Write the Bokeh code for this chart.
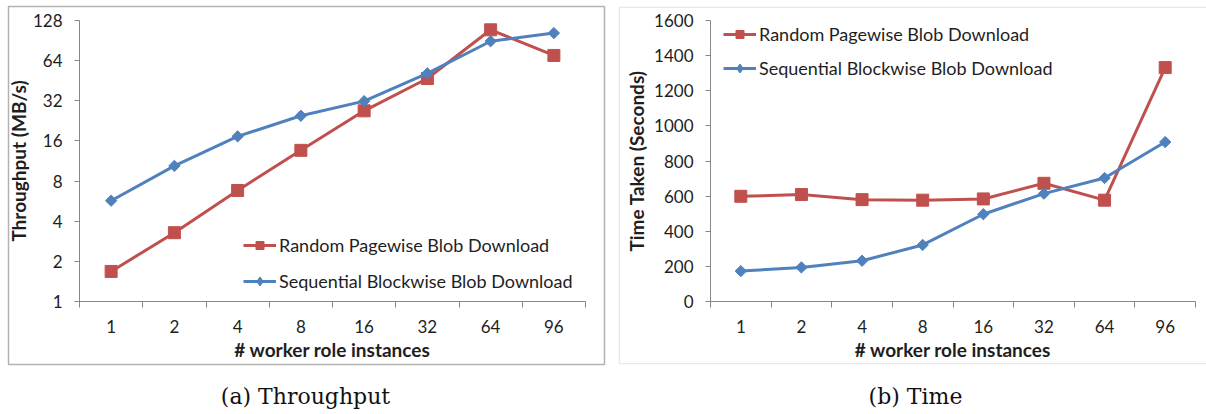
from bokeh.plotting import figure
from bokeh.layouts import row, column
from bokeh.models import (FixedTicker, Legend, LegendItem, Range1d, BoxAnnotation,
                          NumeralTickFormatter, ColumnDataSource)
from bokeh.core.properties import value
from bokeh.embed import file_html
from bokeh.resources import INLINE
import math

# ---- data -------------------------------------------------------------
categories = ["1", "2", "4", "8", "16", "32", "64", "96"]

throughput_random = [1.68, 3.28, 6.8, 13.6, 26.9, 47, 109, 70]
throughput_sequential = [5.7, 10.4, 17.3, 24.7, 31.8, 51.4, 89.5, 103]

time_random = [599, 609, 580, 577, 584, 673, 577, 1332]
time_sequential = [173, 194, 232, 322, 497, 614, 703, 908]

throughput_ticks = [1, 2, 4, 8, 16, 32, 64, 128]
time_ticks = [0, 200, 400, 600, 800, 1000, 1200, 1400, 1600]

series_names = ["Random Pagewise Blob Download", "Sequential Blockwise Blob Download"]
captions = ["(a) Throughput", "(b) Time"]

# ---- style / layout ----------------------------------------------------
RED = "#C0504D"
BLUE = "#4F81BD"
AXIS = "#868686"
FRAME = "#B2B2B2"
TEXT = "#1E1E1E"
FONT = "Lato"

PANEL_H = 366          # height of each chart canvas
BOX_TOP, BOX_BOTTOM = 6, 364      # grey chart border (canvas px)
AXIS_TOP, AXIS_BOTTOM = 20, 301   # value axis extent (canvas px)
CAPTION_H = 48
CAPTION_X = [305, 915]

x_centers = [i + 0.5 for i in range(len(categories))]
x_bounds = list(range(len(categories) + 1))
n_cat = len(categories)


def make_panel(width, box_left, box_right, axis_left, axis_right, log_axis,
               lo, hi, ticks, y_label, red_vals, blue_vals,
               legend_loc, legend_spacing, ylabel_standoff, open_right=False):
    # the plot frame is the grey chart border; axes sit inside it at fixed spots
    px_per_cat = (axis_right - axis_left) / n_cat
    x0 = -(axis_left - box_left) / px_per_cat
    x1 = n_cat + (box_right - axis_right) / px_per_cat

    span = AXIS_BOTTOM - AXIS_TOP
    below = BOX_BOTTOM - AXIS_BOTTOM
    above = AXIS_TOP - BOX_TOP
    if log_axis:
        octaves = math.log2(hi / lo)
        y0 = lo * 2 ** (-below * octaves / span)
        y1 = hi * 2 ** (above * octaves / span)
    else:
        y0 = lo - below * (hi - lo) / span
        y1 = hi + above * (hi - lo) / span

    p = figure(width=width, height=PANEL_H, output_backend="svg", toolbar_location=None,
               x_range=Range1d(x0, x1), y_range=Range1d(y0, y1),
               y_axis_type="log" if log_axis else "linear",
               min_border_left=box_left, min_border_right=width - box_right,
               min_border_top=BOX_TOP, min_border_bottom=PANEL_H - BOX_BOTTOM)
    p.xgrid.visible = False
    p.ygrid.visible = False
    p.background_fill_color = "white"
    p.border_fill_color = "white"

    if open_right:
        # border runs off the right edge of the page: draw three sides only
        frame_h = BOX_BOTTOM - BOX_TOP
        p.outline_line_color = None
        p.add_layout(BoxAnnotation(left=0.75, right=box_right - box_left + 20,
                                   bottom=0.75, top=frame_h - 0.75,
                                   left_units="screen", right_units="screen",
                                   top_units="screen", bottom_units="screen",
                                   fill_alpha=0, line_color=FRAME, line_width=1.5))
    else:
        p.outline_line_color = FRAME
        p.outline_line_width = 1.5

    # category axis: labels at band centres, tick marks at band boundaries
    xa = p.xaxis[0]
    xa.fixed_location = lo
    xa.bounds = (0, n_cat)
    xa.ticker = FixedTicker(ticks=x_centers, minor_ticks=x_bounds)
    xa.major_label_overrides = {c: lab for c, lab in zip(x_centers, categories)}
    xa.major_tick_out = 0
    xa.major_tick_in = 0
    xa.minor_tick_out = 6
    xa.minor_tick_in = 0
    xa.minor_tick_line_color = AXIS
    xa.axis_line_color = AXIS
    xa.major_label_standoff = 12
    xa.axis_label = "# worker role instances"
    xa.axis_label_standoff = 2

    ya = p.yaxis[0]
    ya.fixed_location = 0
    ya.bounds = (lo, hi)
    ya.ticker = FixedTicker(ticks=ticks)
    ya.formatter = NumeralTickFormatter(format="0")
    ya.major_tick_out = 5
    ya.major_tick_in = 0
    ya.minor_tick_out = 0
    ya.minor_tick_in = 0
    ya.major_tick_line_color = AXIS
    ya.axis_line_color = AXIS
    ya.major_label_standoff = 12
    ya.axis_label = y_label
    ya.axis_label_standoff = ylabel_standoff

    for ax in (xa, ya):
        ax.major_label_text_font = FONT
        ax.major_label_text_font_size = "17px"
        ax.major_label_text_color = TEXT
        ax.axis_label_text_font = FONT
        ax.axis_label_text_font_size = "19px"
        ax.axis_label_text_font_style = "bold"
        ax.axis_label_text_color = TEXT

    src = ColumnDataSource(dict(x=x_centers, red=red_vals, blue=blue_vals))
    r_line = p.line("x", "red", source=src, line_color=RED, line_width=3)
    r_mark = p.scatter("x", "red", source=src, marker="square", size=12,
                       fill_color=RED, line_color=RED)
    b_line = p.line("x", "blue", source=src, line_color=BLUE, line_width=3)
    b_mark = p.scatter("x", "blue", source=src, marker="square", angle=math.pi / 4,
                       size=8, fill_color=BLUE, line_color=BLUE)
    # legend swatch for the blue series uses an upright diamond marker
    b_key = p.scatter("x", "blue", source=src, marker="diamond", size=12,
                      fill_color=BLUE, line_color=BLUE, line_width=1.5, visible=False)

    legend = Legend(items=[LegendItem(label=series_names[0], renderers=[r_line, r_mark]),
                           LegendItem(label=series_names[1], renderers=[b_line, b_key])],
                    location=legend_loc, orientation="vertical",
                    glyph_width=33, glyph_height=20, label_height=20,
                    label_standoff=3, spacing=legend_spacing, padding=0, margin=0,
                    background_fill_alpha=0, border_line_alpha=0,
                    inactive_fill_alpha=0,
                    label_text_font=FONT, label_text_font_size="18px",
                    label_text_color=TEXT)
    p.add_layout(legend, "center")
    return p


left = make_panel(611, 8, 604, 79, 585, True, throughput_ticks[0], throughput_ticks[-1],
                  throughput_ticks, "Throughput (MB/s)",
                  throughput_random, throughput_sequential, (235, 72), 14, 0)

right = make_panel(595, 7, 595, 99, 584, False, time_ticks[0], time_ticks[-1],
                   time_ticks, "Time Taken (Seconds)",
                   time_random, time_sequential, (105, 285), 12, 3, open_right=True)

# sub-figure captions
cap = figure(width=1206, height=CAPTION_H, output_backend="svg", toolbar_location=None,
             x_range=Range1d(0, 1206), y_range=Range1d(0, CAPTION_H),
             min_border=0, x_axis_location=None, y_axis_location=None)
cap.outline_line_color = None
cap.xgrid.visible = False
cap.ygrid.visible = False
cap.text(x=CAPTION_X, y=[18, 18], text=captions, text_align="center",
         text_baseline="middle", text_font=value("DejaVu Serif"),
         text_font_size=value("22px"), text_color="#111111")

layout = column(row(left, right, spacing=0), cap, spacing=0)

open("out.html", "w").write(file_html(layout, INLINE))
